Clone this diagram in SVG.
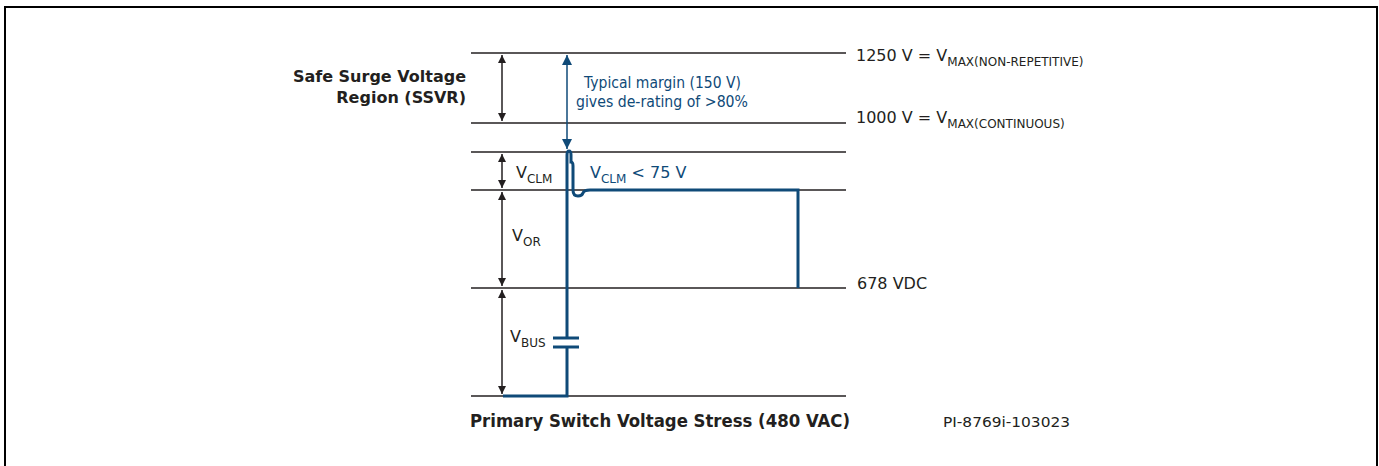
<svg xmlns="http://www.w3.org/2000/svg" width="1379" height="466" viewBox="0 0 1379 466">
<style>
.ln{stroke:#231f20;stroke-width:1.5;fill:none}
.ar{stroke:#231f20;stroke-width:1.5;fill:none;marker-start:url(#ka);marker-end:url(#ka)}
.bl{stroke:#0f4a78;stroke-width:3;fill:none}
.t{font-family:"DejaVu Sans",Verdana,sans-serif;fill:#231f20;font-size:16px}
.b{font-family:"DejaVu Sans",Verdana,sans-serif;fill:#231f20;font-size:16px;font-weight:bold}
.tb{font-family:"DejaVu Sans",Verdana,sans-serif;fill:#0f4a78;font-size:16px}
.s{font-size:12px}
</style>
<defs>
<marker id="ka" viewBox="0 0 10 10" refX="10" refY="5" markerWidth="8" markerHeight="8" markerUnits="userSpaceOnUse" orient="auto-start-reverse"><path d="M0,0 L10,5 L0,10 z" fill="#231f20"/></marker>
<marker id="kb" viewBox="0 0 10 10" refX="10" refY="5" markerWidth="10" markerHeight="10" markerUnits="userSpaceOnUse" orient="auto-start-reverse"><path d="M0,0 L10,5 L0,10 z" fill="#0f4a78"/></marker>
</defs>
<rect x="0" y="0" width="1379" height="466" fill="#fff"/>
<rect x="5" y="7" width="1372" height="470" fill="none" stroke="#000" stroke-width="2"/>
<g id="levels">
<line class="ln" x1="471" y1="53" x2="846" y2="53"/>
<line class="ln" x1="471" y1="123" x2="846" y2="123"/>
<line class="ln" x1="471" y1="152" x2="846" y2="152"/>
<line class="ln" x1="471" y1="190" x2="846" y2="190"/>
<line class="ln" x1="471" y1="288" x2="846" y2="288"/>
<line class="ln" x1="471" y1="396" x2="846" y2="396"/>
</g>
<g id="connectors">
<line class="ar" x1="502" y1="55" x2="502" y2="121"/>
<line class="ar" x1="502" y1="154" x2="502" y2="188"/>
<line class="ar" x1="502" y1="192" x2="502" y2="286"/>
<line class="ar" x1="502" y1="290" x2="502" y2="394"/>
<line stroke="#0f4a78" stroke-width="1.5" x1="567" y1="55" x2="567" y2="149" marker-start="url(#kb)" marker-end="url(#kb)"/>
</g>
<g id="waveform">
<path class="bl" d="M503,396 L567,396 L567,347 M567,338 L567,155 Q567,151 569,151 Q571,151 571,155 L571,162 Q573,162 573,166 L573,190 Q573,196 578,196 Q582,196 583,193 Q584,190 590,190 L798,190 L798,288"/>
<line class="bl" x1="553" y1="338" x2="579" y2="338"/>
<line class="bl" x1="553" y1="347" x2="579" y2="347"/>
</g>
<g id="labels">
<text class="b" x="466" y="82" text-anchor="end">Safe Surge Voltage</text>
<text class="b" x="466" y="103" text-anchor="end">Region (SSVR)</text>
<text class="tb" x="584" y="88" style="font-size:15px" textLength="157" lengthAdjust="spacingAndGlyphs">Typical margin (150 V)</text>
<text class="tb" x="576" y="107" style="font-size:15px" textLength="172" lengthAdjust="spacingAndGlyphs">gives de-rating of &gt;80%</text>
<text class="t" x="856" y="61">1250 V = V<tspan class="s" dy="5">MAX(NON-REPETITIVE)</tspan></text>
<text class="t" x="856" y="123">1000 V = V<tspan class="s" dy="5">MAX(CONTINUOUS)</tspan></text>
<text class="t" x="516" y="178">V<tspan class="s" dy="5">CLM</tspan></text>
<text class="tb" x="590" y="178">V<tspan class="s" dy="5">CLM</tspan><tspan dy="-5"> &lt; 75 V</tspan></text>
<text class="t" x="512" y="241">V<tspan class="s" dy="5">OR</tspan></text>
<text class="t" x="510" y="342">V<tspan class="s" dy="5">BUS</tspan></text>
<text class="t" x="857" y="289">678 VDC</text>
<text class="b" x="470" y="427" style="font-size:17px" textLength="380" lengthAdjust="spacingAndGlyphs">Primary Switch Voltage Stress (480 VAC)</text>
<text class="t" x="943" y="427" style="font-size:14px" textLength="127" lengthAdjust="spacingAndGlyphs">PI-8769i-103023</text>
</g>
</svg>
